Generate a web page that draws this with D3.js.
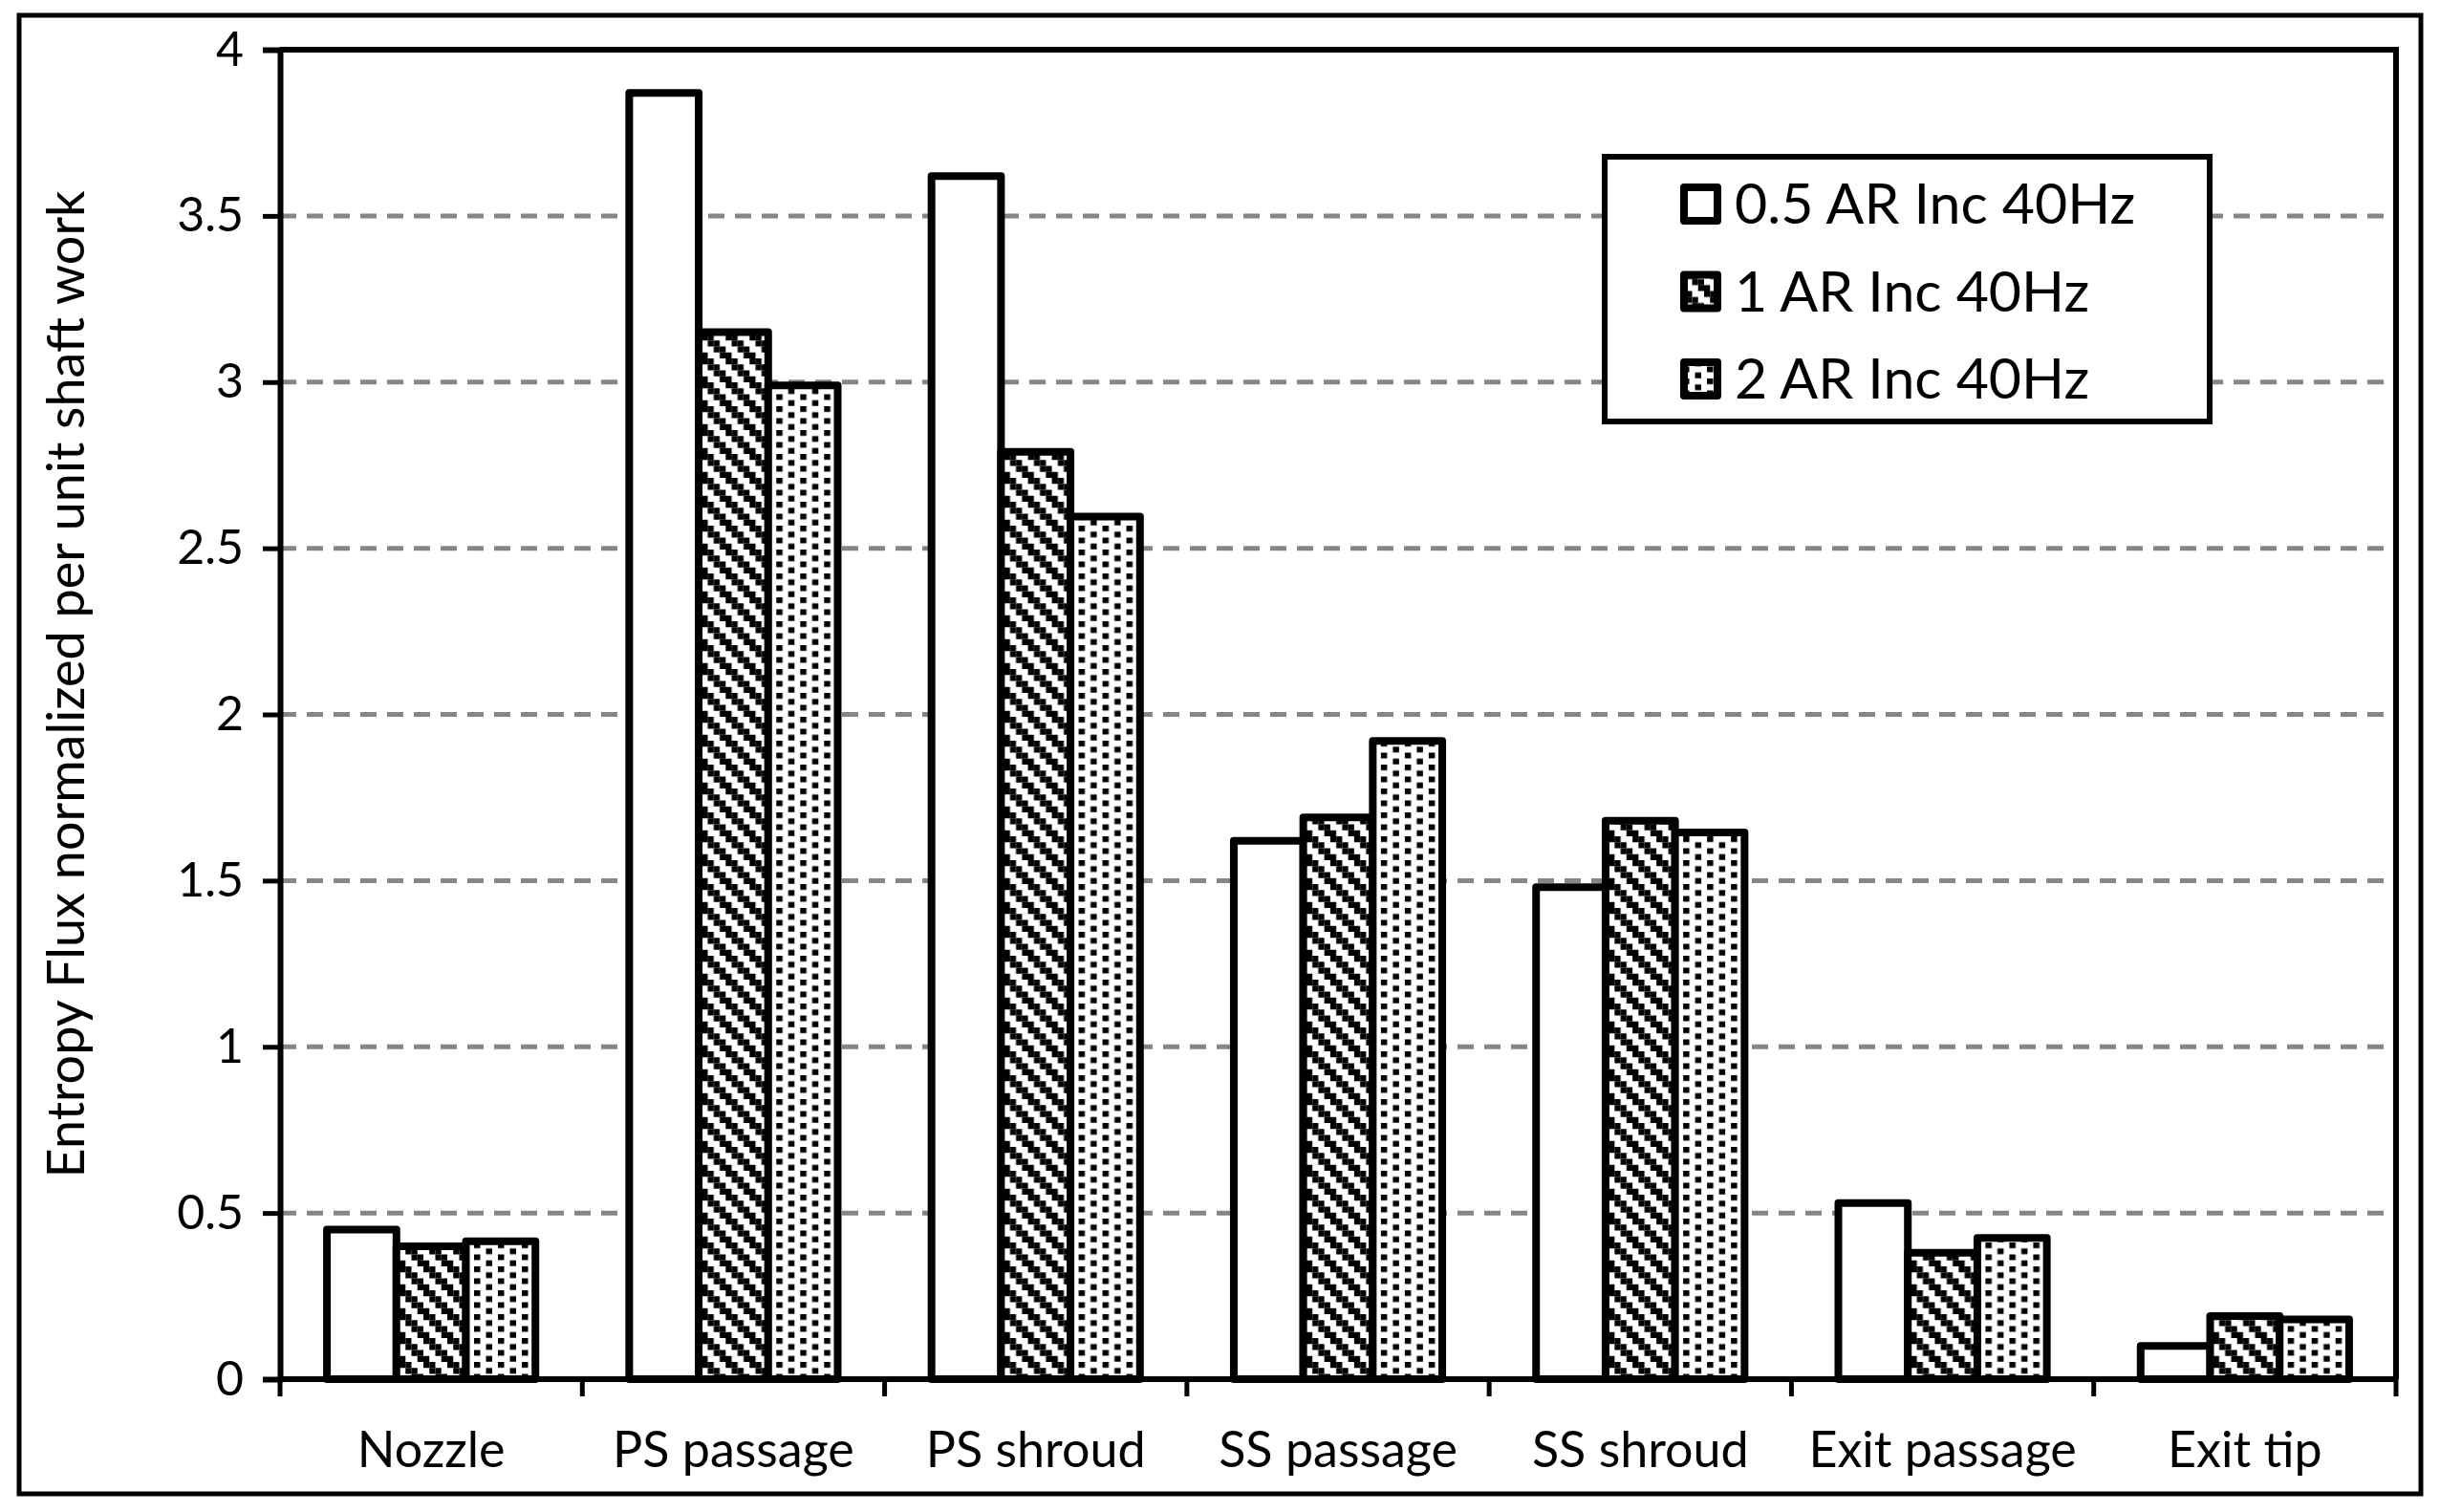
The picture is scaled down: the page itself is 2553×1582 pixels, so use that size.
<!DOCTYPE html>
<html>
<head>
<meta charset="utf-8">
<script src="https://cdn.jsdelivr.net/npm/d3@7"></script>
<style>
  body { margin: 0; background: #fff; }
  svg text { font-family: Lato, "Open Sans", sans-serif; fill: #000; }
</style>
</head>
<body>
<svg id="chart" width="2553" height="1582"></svg>
<script>
var categories = ['Nozzle', 'PS passage', 'PS shroud', 'SS passage', 'SS shroud', 'Exit passage', 'Exit tip']
var seriesNames = ['0.5 AR Inc 40Hz', '1 AR Inc 40Hz', '2 AR Inc 40Hz']
var ar05 = [0.45, 3.87, 3.62, 1.62, 1.48, 0.53, 0.10]
var ar1 = [0.40, 3.15, 2.79, 1.69, 1.68, 0.38, 0.19]
var ar2 = [0.415, 2.99, 2.595, 1.92, 1.645, 0.425, 0.18]
var yTicks = [0, 0.5, 1, 1.5, 2, 2.5, 3, 3.5, 4]
var yLabel = 'Entropy Flux normalized per unit shaft work'

var svg = d3.select('#chart')
  , plot = {left: 293, right: 2507, top: 52, bottom: 1443}
  , values = [ar05, ar1, ar2]
  , fills = ['#fff', 'url(#hatch)', 'url(#dots)']

// fill patterns (excel style wide downward diagonal + dots)
var defs = svg.append('defs')
var hatch = defs.append('pattern')
  .attr('id', 'hatch').attr('patternUnits', 'userSpaceOnUse')
  .attr('width', 25).attr('height', 25)
hatch.append('rect').attr('width', 25).attr('height', 25).attr('fill', '#fff')
d3.range(4).forEach(function(r) {
  [r, (r + 1) % 4].forEach(function(c) {
    hatch.append('rect').attr('x', c * 6.25).attr('y', r * 6.25)
      .attr('width', 6.25).attr('height', 6.25).attr('fill', '#000')
  })
})
var dots = defs.append('pattern')
  .attr('id', 'dots').attr('patternUnits', 'userSpaceOnUse')
  .attr('width', 25).attr('height', 12.5)
dots.append('rect').attr('width', 25).attr('height', 12.5).attr('fill', '#fff')
dots.append('rect').attr('x', 3).attr('y', 0).attr('width', 6.5).attr('height', 6).attr('fill', '#000')
dots.append('rect').attr('x', 15.5).attr('y', 6.25).attr('width', 6.5).attr('height', 6).attr('fill', '#000')
dots.append('rect').attr('x', 15.5).attr('y', -6.25).attr('width', 6.5).attr('height', 6).attr('fill', '#000')

// outer chart border
svg.append('rect')
  .attr('x', 20).attr('y', 16).attr('width', 2513).attr('height', 1547)
  .attr('fill', '#fff').attr('stroke', '#000').attr('stroke-width', 5)

// scales
var x0 = d3.scaleBand().domain(categories).range([plot.left, plot.right])
var x1 = d3.scaleBand().domain(d3.range(3)).range([0, x0.bandwidth()]).paddingOuter(0.675)
var y = d3.scaleLinear().domain([0, 4]).range([plot.bottom, plot.top])

// gridlines
svg.append('g').selectAll('line')
  .data(yTicks.filter(function(d) { return d > 0 && d < 4 }))
  .enter().append('line')
  .attr('x1', plot.left).attr('x2', plot.right)
  .attr('y1', function(d) { return y(d) }).attr('y2', function(d) { return y(d) })
  .attr('stroke', '#868686').attr('stroke-width', 5).attr('stroke-dasharray', '17 11')

// bars
var groups = svg.append('g').selectAll('g')
  .data(categories)
  .enter().append('g')
  .attr('transform', function(d) { return 'translate(' + x0(d) + ',0)' })

groups.selectAll('rect')
  .data(function(d, i) { return values.map(function(v, s) { return {s: s, v: v[i]} }) })
  .enter().append('rect')
  .attr('x', function(d) { return x1(d.s) })
  .attr('width', x1.bandwidth())
  .attr('y', function(d) { return y(d.v) })
  .attr('height', function(d) { return y(0) - y(d.v) })
  .attr('fill', function(d) { return fills[d.s] })
  .attr('stroke', '#000').attr('stroke-width', 8).attr('stroke-linejoin', 'round')

// plot frame: top and right
svg.append('path')
  .attr('d', 'M' + plot.left + ',' + plot.top + 'H' + plot.right + 'V' + plot.bottom)
  .attr('fill', 'none').attr('stroke', '#000').attr('stroke-width', 6)

// y axis
var yAxis = svg.append('g')
  .attr('transform', 'translate(' + plot.left + ',0)')
  .call(d3.axisLeft(y).tickValues(yTicks).tickSize(18).tickPadding(20)
    .tickFormat(function(d) { return String(d) }))
yAxis.select('.domain').attr('stroke-width', 6)
yAxis.selectAll('.tick line').attr('stroke-width', 5)
yAxis.selectAll('.tick text').attr('font-size', 50).attr('font-family', null)

// x axis, ticks between categories
var xAxis = svg.append('g')
  .attr('transform', 'translate(0,' + plot.bottom + ')')
xAxis.append('line')
  .attr('x1', plot.left).attr('x2', plot.right)
  .attr('stroke', '#000').attr('stroke-width', 6)
xAxis.selectAll('line.tk')
  .data(categories.concat(['end']))
  .enter().append('line').attr('class', 'tk')
  .attr('x1', function(d, i) { return i < categories.length ? x0(d) : plot.right })
  .attr('x2', function(d, i) { return i < categories.length ? x0(d) : plot.right })
  .attr('y1', 0).attr('y2', 18)
  .attr('stroke', '#000').attr('stroke-width', 5)
xAxis.selectAll('text')
  .data(categories)
  .enter().append('text')
  .attr('x', function(d) { return x0(d) + x0.bandwidth() / 2 })
  .attr('y', 92)
  .attr('text-anchor', 'middle')
  .attr('font-size', 52)
  .text(function(d) { return d })

// y label
svg.append('text')
  .attr('transform', 'translate(88,716) rotate(-90)')
  .attr('text-anchor', 'middle')
  .attr('font-size', 54)
  .text(yLabel)

// legend
var legend = svg.append('g')
legend.append('rect')
  .attr('x', 1679).attr('y', 164).attr('width', 633).attr('height', 277)
  .attr('fill', '#fff').attr('stroke', '#000').attr('stroke-width', 6)
var rows = legend.selectAll('g.row')
  .data(seriesNames)
  .enter().append('g').attr('class', 'row')
  .attr('transform', function(d, i) { return 'translate(1758,' + (213 + i * 91.5) + ')' })
rows.append('rect')
  .attr('x', 4).attr('y', -17).attr('width', 35).attr('height', 35)
  .attr('fill', function(d, i) { return fills[i] })
  .attr('stroke', '#000').attr('stroke-width', 8).attr('stroke-linejoin', 'round')
rows.append('text')
  .attr('x', 57).attr('y', 0).attr('dy', '0.36em')
  .attr('font-size', 59)
  .text(function(d) { return d })
</script>
</body>
</html>
